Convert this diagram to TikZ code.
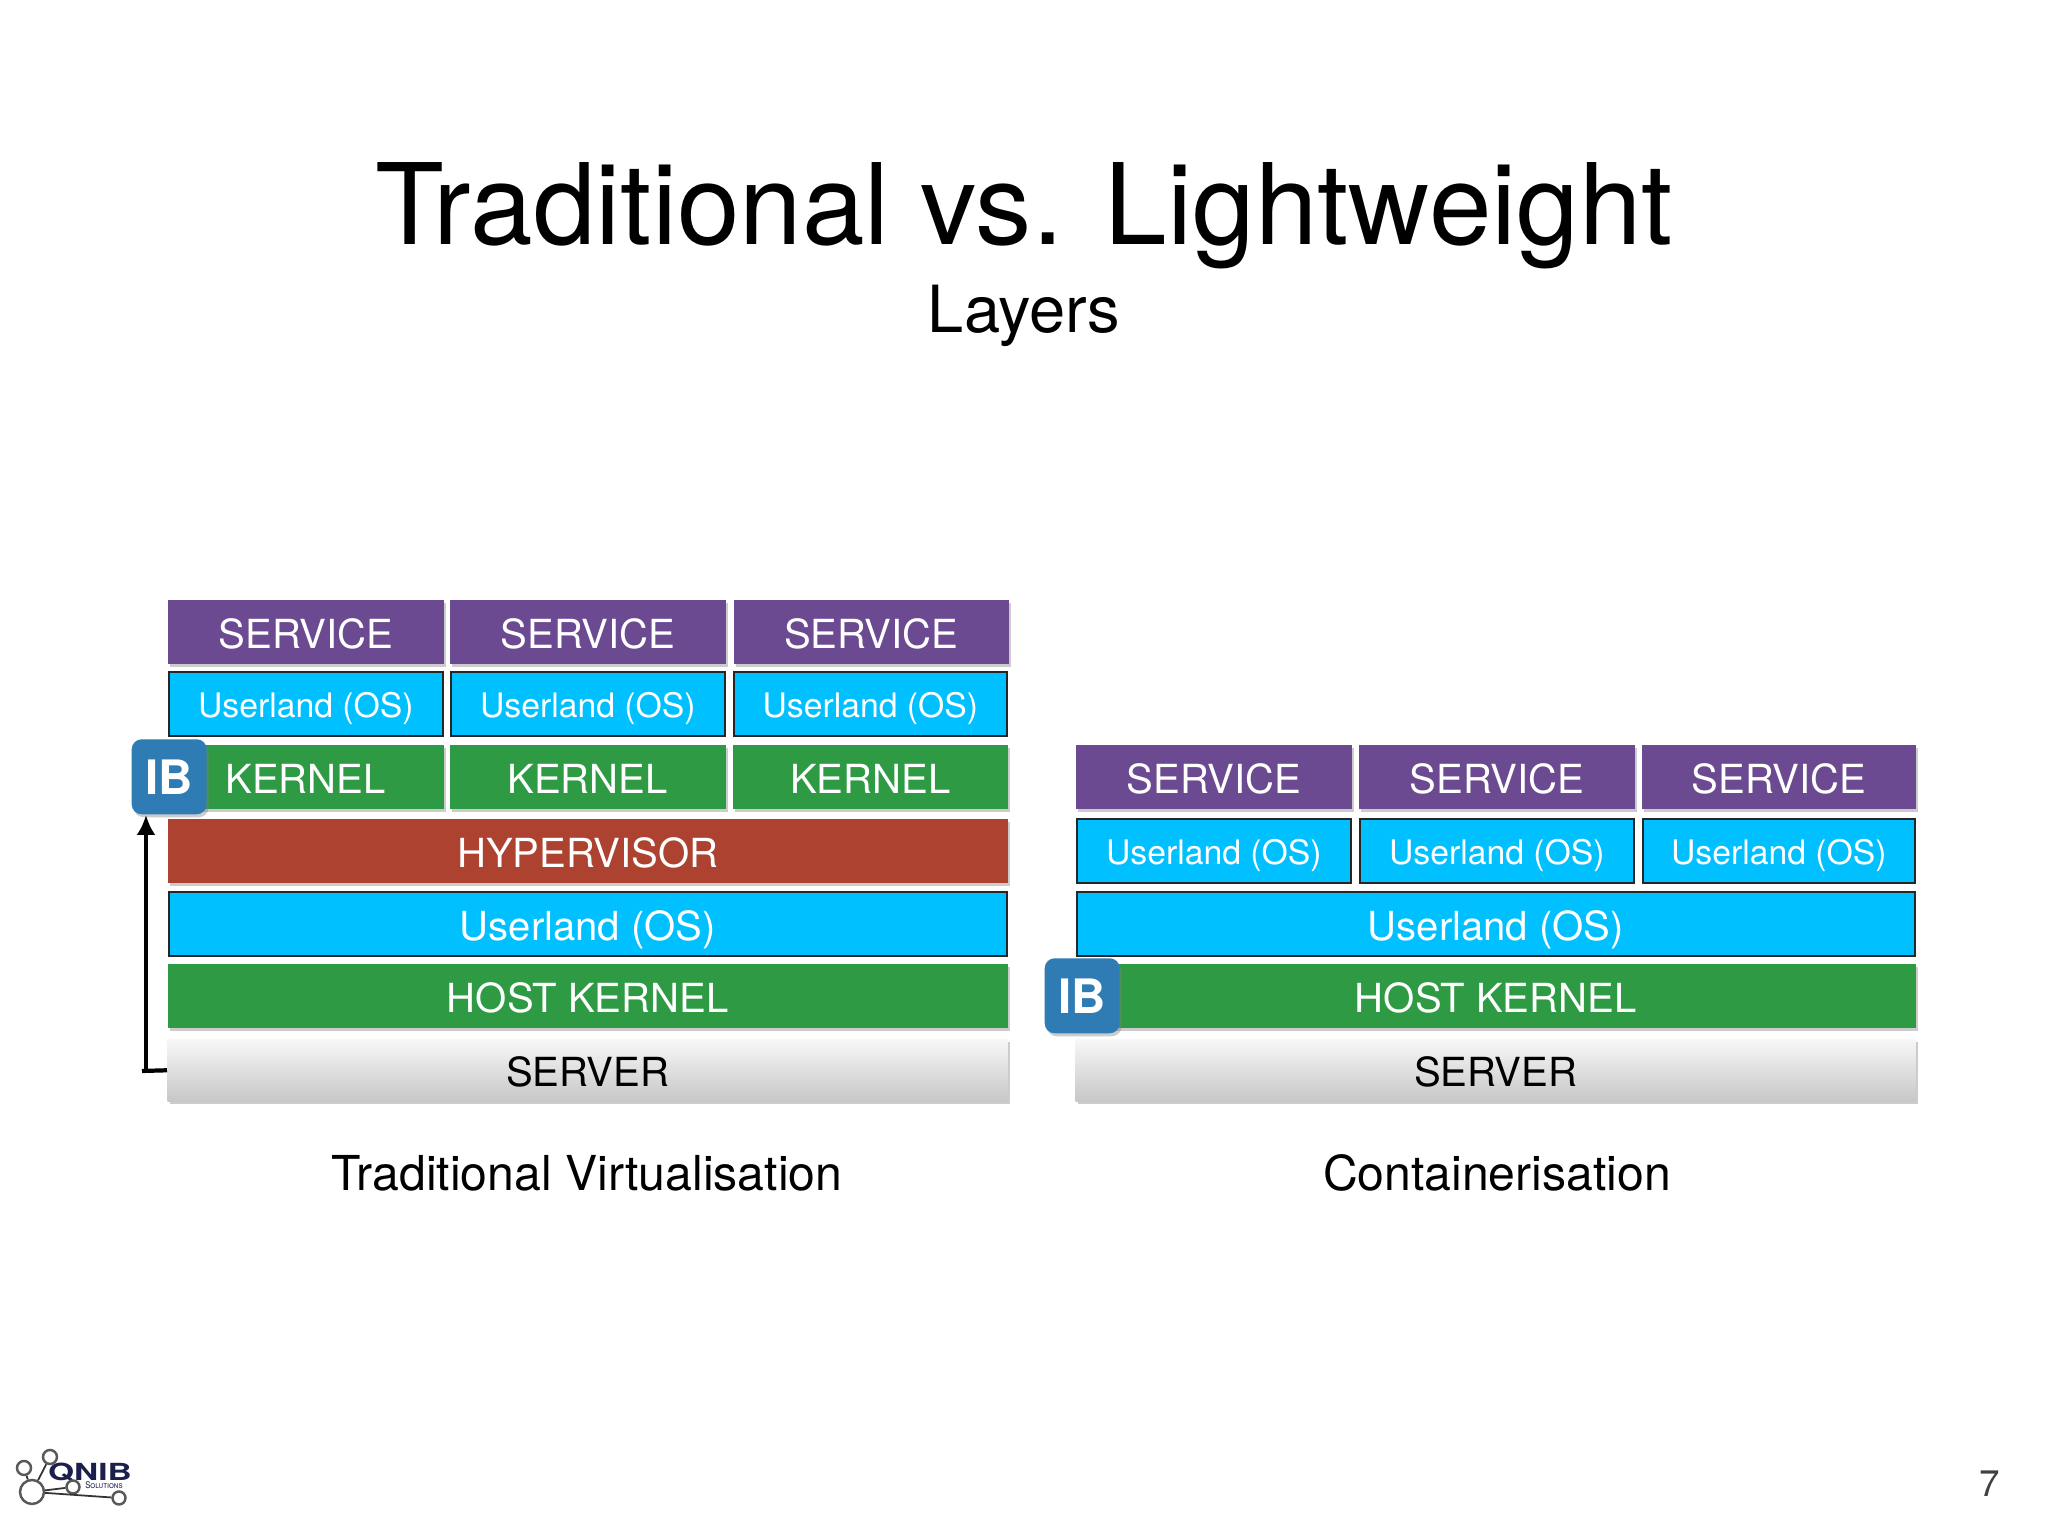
\documentclass[tikz,border=0pt]{standalone}
\usepackage{fontspec}
\setmainfont{TeX Gyre Heros}
\usepackage{xcolor}
\usetikzlibrary{shadows, arrows.meta, positioning}
\definecolor{svcpurple}{HTML}{6C4A91}
\definecolor{oscyan}{HTML}{00C0FF}
\definecolor{krngreen}{HTML}{2F9A44}
\definecolor{hypred}{HTML}{AD4230}
\definecolor{ibblue}{HTML}{2F7CB4}
\definecolor{logonavy}{HTML}{1B1F4B}
\tikzset{
  layer/.style={anchor=south west, inner sep=0pt, text height=.32cm, text depth=0pt,
    minimum height=.64cm, font=\fontsize{11.4pt}{11.4pt}\selectfont},
  shade/.style={drop shadow={shadow xshift=.02cm, shadow yshift=-.03cm, opacity=.4}},
  svc/.style={layer, shade, fill=svcpurple, text=white},
  krn/.style={layer, shade, fill=krngreen, text=white},
  hyp/.style={layer, shade, fill=hypred, text=white},
  os/.style={layer, draw=black!85, line width=.5pt, fill=oscyan, text=white},
  ossmall/.style={os, font=\fontsize{9.6pt}{9.6pt}\selectfont, text height=.26cm},
  srv/.style={layer, shade, top color=white!97!black, bottom color=black!22, text=black},
  ibbox/.style={shade, anchor=south west, rounded corners=.1cm, fill=ibblue, text=white,
    minimum size=.75cm, inner sep=0pt, font=\fontsize{13.5pt}{13.5pt}\selectfont\bfseries},
  atom/.style={circle, draw=black!65, line width=.7pt, fill=white, inner sep=0pt},
}
\begin{document}
\begin{tikzpicture}
  \useasboundingbox[fill=white] (0,0) rectangle (20.48,15.36);

  \node[font=\fontsize{32pt}{32pt}\selectfont] (title) at (10.24,13.2) {Traditional vs. Lightweight};
  \node[font=\fontsize{18.5pt}{18.5pt}\selectfont] (subtitle) at (10.24,12.2) {Layers};

  % traditional
  \node[svc, minimum width=2.76cm] (tsvc1) at (1.67,8.71) {SERVICE};
  \node[svc, minimum width=2.76cm] (tsvc2) at (4.49,8.71) {SERVICE};
  \node[svc, minimum width=2.75cm] (tsvc3) at (7.33,8.71) {SERVICE};
  \node[ossmall, minimum width=2.74cm] (tos1) at (1.68,7.99) {Userland (OS)};
  \node[ossmall, minimum width=2.74cm] (tos2) at (4.50,7.99) {Userland (OS)};
  \node[ossmall, minimum width=2.73cm] (tos3) at (7.33,7.99) {Userland (OS)};
  \node[krn, minimum width=2.76cm] (tkrn1) at (1.67,7.26) {KERNEL};
  \node[krn, minimum width=2.76cm] (tkrn2) at (4.49,7.26) {KERNEL};
  \node[krn, minimum width=2.75cm] (tkrn3) at (7.32,7.26) {KERNEL};
  \node[hyp, minimum width=8.40cm] (thyp) at (1.67,6.52) {HYPERVISOR};
  \node[os, minimum width=8.38cm] (tos) at (1.68,5.79) {Userland (OS)};
  \node[krn, minimum width=8.40cm] (thost) at (1.67,5.07) {HOST KERNEL};
  \node[srv, minimum width=8.40cm, minimum height=.62cm] (tsrv) at (1.67,4.34) {SERVER};
  \node[ibbox] (tib) at (1.31,7.21) {IB};

  \coordinate (telbow) at (1.42,4.65);
  \coordinate (tfoot) at (1.46,7.21);
  \draw[line width=1.2pt] (tsrv.west) -- (telbow);
  \draw[line width=1.2pt, -{Latex[length=.2cm,width=.19cm]}] (tfoot |- telbow) -- (tfoot);

  \node[font=\fontsize{13.7pt}{13.7pt}\selectfont] (tcap) at (5.87,3.63) {Traditional Virtualisation};

  % containers
  \node[svc, minimum width=2.76cm] (csvc1) at (10.75,7.26) {SERVICE};
  \node[svc, minimum width=2.76cm] (csvc2) at (13.58,7.26) {SERVICE};
  \node[svc, minimum width=2.74cm] (csvc3) at (16.41,7.26) {SERVICE};
  \node[ossmall, minimum width=2.74cm] (cos1) at (10.76,6.52) {Userland (OS)};
  \node[ossmall, minimum width=2.74cm] (cos2) at (13.59,6.52) {Userland (OS)};
  \node[ossmall, minimum width=2.72cm] (cos3) at (16.42,6.52) {Userland (OS)};
  \node[os, minimum width=8.38cm] (cos) at (10.76,5.79) {Userland (OS)};
  \node[krn, minimum width=8.40cm] (chost) at (10.75,5.07) {HOST KERNEL};
  \node[srv, minimum width=8.40cm, minimum height=.62cm] (csrv) at (10.75,4.34) {SERVER};
  \node[ibbox] (cib) at (10.44,5.02) {IB};

  \node[font=\fontsize{13.7pt}{13.7pt}\selectfont] (ccap) at (14.97,3.63) {Containerisation};

  % logo
  \node[text=logonavy, font=\fontsize{6.7pt}{6.7pt}\selectfont\bfseries, xscale=1.42] (qnib) at (.90,.64) {QNIB};
  \node[text=logonavy, font=\fontsize{2.6pt}{2.6pt}\selectfont\scshape, xscale=.85] (sol) at (1.04,.51) {Solutions};
  \node[atom, minimum size=.24cm] (hub) at (.32,.44) {};
  \node[atom, minimum size=.14cm] (atom1) at (.24,.68) {};
  \node[atom, minimum size=.14cm] (atom2) at (.50,.79) {};
  \node[atom, minimum size=.13cm] (atom3) at (.73,.49) {};
  \node[atom, minimum size=.13cm] (atom4) at (1.19,.38) {};
  \draw[black!80, line width=.5pt] (hub) -- (atom1);
  \draw[black!80, line width=.5pt] (hub) -- (atom2);
  \draw[black!80, line width=.5pt] (hub) -- (atom3);
  \draw[black!80, line width=.5pt] (hub) -- (atom4);

  \node[font=\fontsize{10.5pt}{10.5pt}\selectfont, text=black!75] (pagenum) at (19.90,.52) {7};
\end{tikzpicture}
\end{document}
